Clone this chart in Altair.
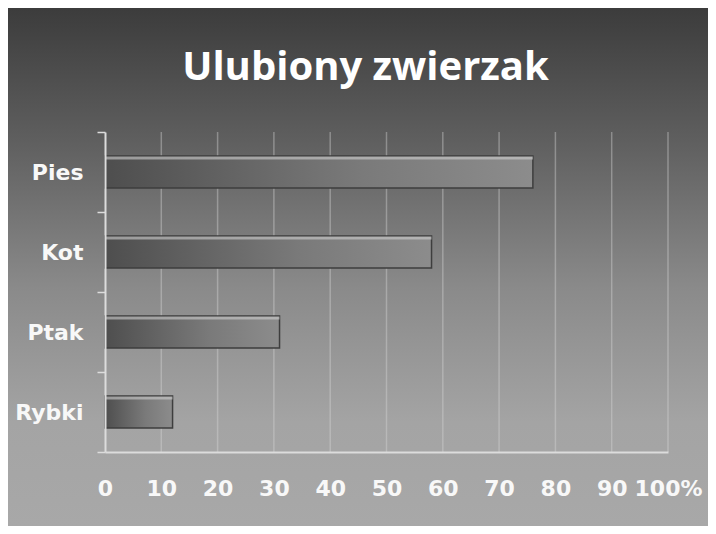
import altair as alt
import pandas as pd

animals = ["Pies", "Kot", "Ptak", "Rybki"]
shares = [76, 58, 31, 12]
ticks = [0, 10, 20, 30, 40, 50, 60, 70, 80, 90, 100]
title_text = "Ulubiony zwierzak"

W, H = 563, 320
PL, PT, PR, PB = 97, 124, 40, 74

df = pd.DataFrame({"animal": animals, "share": shares})
tick_df = pd.DataFrame({"t": ticks[1:]})

xscale = alt.Scale(domain=[0, 100], nice=False, zero=True)
yscale = alt.Scale(domain=animals, paddingInner=0, paddingOuter=0)

xaxis = alt.Axis(values=ticks, title=None, grid=False, ticks=False,
                 domainColor="#dcdcdc", domainWidth=2,
                 labelColor="#f8f8f8", labelFont="DejaVu Sans",
                 labelFontWeight="bold", labelFontSize=22,
                 labelPadding=26, labelFlush=False,
                 labelExpr="datum.value == 100 ? '100%' : datum.label",
                 zindex=1)
yaxis = alt.Axis(title=None, domainColor="#dcdcdc", domainWidth=2,
                 tickColor="#dcdcdc", tickWidth=1.5, tickSize=8,
                 tickBand="extent",
                 labelColor="#f8f8f8", labelFont="DejaVu Sans",
                 labelFontWeight="bold", labelFontSize=22,
                 labelPadding=14, zindex=1)

bg = alt.Chart(alt.Data(values=[{}])).mark_rect(
    color=alt.Gradient(
        gradient="linear",
        x1=0, x2=0, y1=0, y2=1,
        stops=[
            alt.GradientStop(color="#3c3c3c", offset=0),
            alt.GradientStop(color="#5e5e5e", offset=0.25),
            alt.GradientStop(color="#8a8a8a", offset=0.54),
            alt.GradientStop(color="#a4a4a4", offset=0.8),
            alt.GradientStop(color="#a8a8a8", offset=1),
        ],
    )
).encode(
    x=alt.value(-PL), x2=alt.value(W + PR),
    y=alt.value(-PT), y2=alt.value(H + PB),
)

grid = alt.Chart(tick_df).mark_rule(color="#d8d8d8", opacity=0.4, strokeWidth=1.5).encode(
    x=alt.X("t:Q", scale=xscale, axis=xaxis),
    y=alt.value(0), y2=alt.value(H),
)

bars = alt.Chart(df).mark_bar(
    color=alt.Gradient(
        gradient="linear",
        x1=0, x2=1, y1=0, y2=0,
        stops=[
            alt.GradientStop(color="#4e4e4e", offset=0),
            alt.GradientStop(color="#7a7a7a", offset=0.6),
            alt.GradientStop(color="#8c8c8c", offset=1),
        ],
    ),
    stroke="#3e3e3e",
    strokeWidth=1.5,
    height=32,
).encode(
    x=alt.X("share:Q", scale=xscale, axis=xaxis),
    y=alt.Y("animal:N", scale=yscale, sort=animals, axis=yaxis),
)

highlight = alt.Chart(df).mark_bar(color="#cfcfcf", opacity=0.6, height=3, yOffset=-14).encode(
    x=alt.X("share:Q", scale=xscale, axis=xaxis),
    y=alt.Y("animal:N", scale=yscale, sort=animals, axis=yaxis),
)

chart = alt.layer(bg, grid, bars, highlight).properties(
    width=W, height=H,
    padding={"left": PL, "top": PT, "right": PR, "bottom": PB},
    autosize=alt.AutoSizeParams(type="none"),
    title=alt.TitleParams(title_text, anchor="middle", frame="group", fontSize=40,
                          font="Open Sans", fontWeight="bold", color="#ffffff",
                          offset=0, dy=112, dx=-21, baseline="alphabetic", zindex=1),
).configure_view(stroke=None).configure(background="#ffffff")

chart.save("out.html", embed_options={"renderer": "svg", "actions": False})
